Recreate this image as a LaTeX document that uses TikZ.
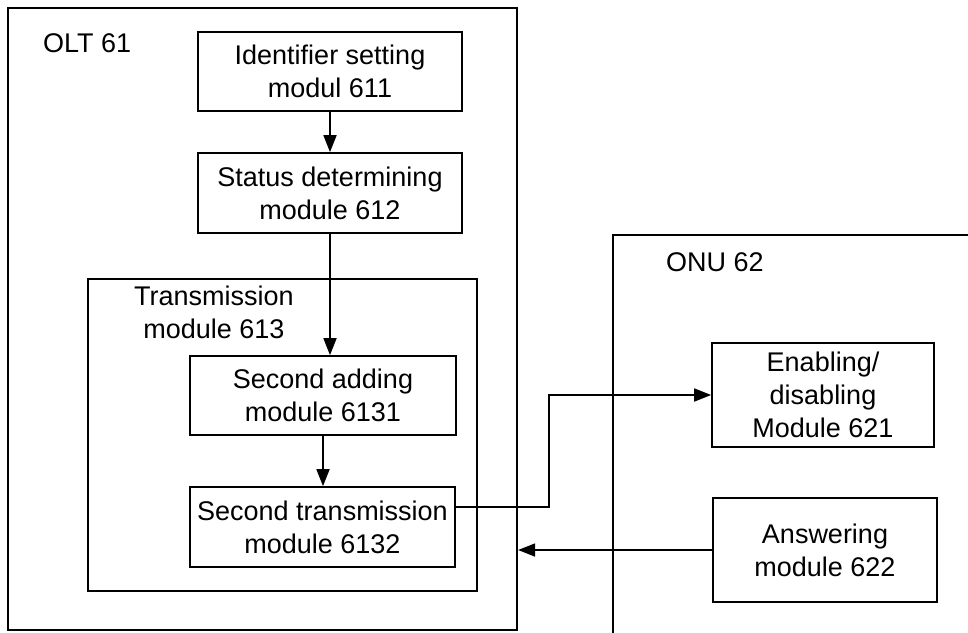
\documentclass[tikz,border=0pt]{standalone}
\usepackage{fontspec}
\setmainfont{Liberation Sans}
\usetikzlibrary{arrows.meta,calc}
\begin{document}
\begin{tikzpicture}[x=1pt,y=-1pt,
  txt/.style={font=\fontsize{27}{33}\selectfont, align=center, inner sep=0pt},
  box/.style={txt, draw, line width=1.7pt},
  frame/.style={draw, line width=2.2pt, inner sep=0pt},
  arr/.style={line width=1.7pt, -{Triangle[length=17pt,width=13pt]}},
  ln/.style={line width=1.7pt}]
\useasboundingbox (0,0) rectangle (968,632);
% containers
\node[frame, minimum width=509pt, minimum height=622pt] (olt) at (262.5,319) {};
\node[frame, minimum width=397pt, minimum height=465pt] (onu) at (811.5,467.5) {};
\node[frame, minimum width=389pt, minimum height=312pt] (trm) at (282.5,435) {};
% labels
\node[txt, anchor=base west] (oltlbl) at (43,52) {OLT 61};
\node[txt, anchor=base west] (onulbl) at (666,271) {ONU 62};
\node[txt, anchor=base] (trlbl) at (214,338) {Transmission\\module 613};
% modules
\node[box, minimum width=264pt, minimum height=79pt] (ids) at (330,71.5) {Identifier setting\\modul 611};
\node[box, minimum width=264pt, minimum height=80pt] (sd) at (330,193) {Status determining\\module 612};
\node[box, minimum width=266pt, minimum height=79pt] (sa) at (323,395.5) {Second adding\\module 6131};
\node[box, minimum width=265pt, minimum height=80pt] (st) at (322.5,527) {Second transmission\\module 6132};
\node[box, minimum width=222pt, minimum height=104pt] (en) at (823,395) {Enabling/\\disabling\\Module 621};
\node[box, minimum width=224pt, minimum height=104pt] (an) at (825,550) {Answering\\module 622};
\coordinate (bend) at (549,0);
% connectors
\draw[arr] (ids) -- (sd);
\draw[arr] (sd.south) -- (sd.south |- sa.north);
\draw[arr] (sa.south) -- (sa.south |- st.north);
\draw[arr] ([yshift=20pt]st.east) -| (bend |- en.west) -- (en.west);
\draw[arr] (an.west) -- (an.west -| olt.east);
\end{tikzpicture}
\end{document}
